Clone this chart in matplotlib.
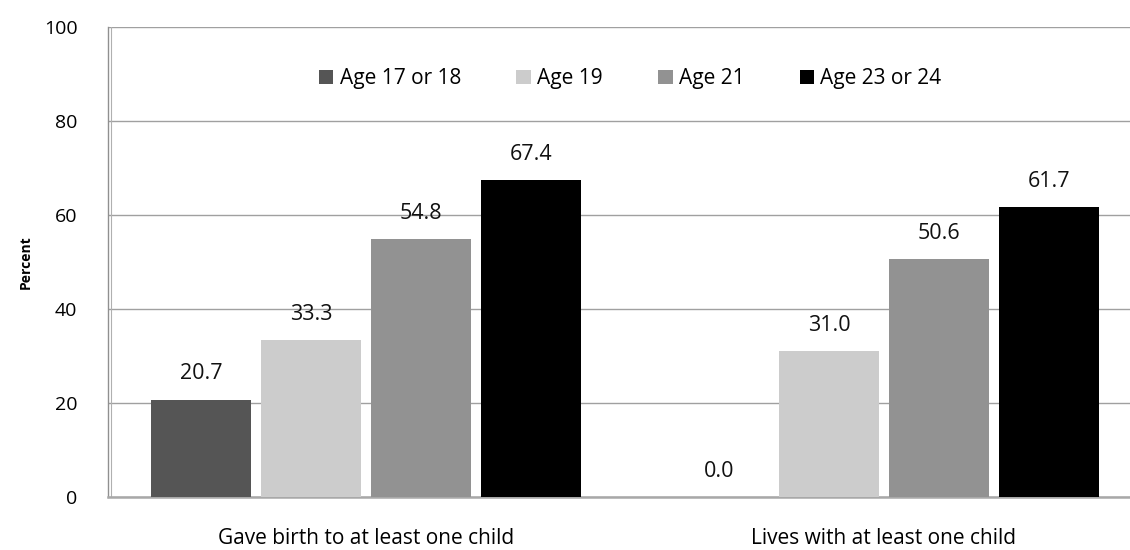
import matplotlib
matplotlib.use("Agg")
import matplotlib.pyplot as plt
import numpy as np

plt.rcParams['font.family'] = ['Open Sans', 'DejaVu Sans']

# data
categories = ['Gave birth to at least one child', 'Lives with at least one child']
series_names = ['Age 17 or 18', 'Age 19', 'Age 21', 'Age 23 or 24']
age_17_18 = [20.7, 0.0]
age_19 = [33.3, 31.0]
age_21 = [54.8, 50.6]
age_23_24 = [67.4, 61.7]
series_values = [age_17_18, age_19, age_21, age_23_24]
colors = ['#555555', '#cccccc', '#929292', '#000000']
y_ticks = [0, 20, 40, 60, 80, 100]

fig = plt.figure(figsize=(11.3, 5.5), dpi=100)
ax = fig.add_axes([108 / 1130, 53 / 550, 1022 / 1130, 470 / 550])

x = np.arange(len(categories))
width = 0.193
step = 0.2125
for i, (name, vals, col) in enumerate(zip(series_names, series_values, colors)):
    pos = x + (i - 1.5) * step
    bars = ax.bar(pos, vals, width, color=col, label=name, zorder=3)
    for b, v in zip(bars, vals):
        ax.annotate(f"{v:.1f}", (b.get_x() + b.get_width() / 2, v),
                    xytext=(0, 11), textcoords='offset points',
                    ha='center', va='bottom', fontsize=15.5, color='#111111')

ax.set_ylim(0, 100)
ax.set_xlim(-0.498, 1.475)
ax.set_yticks(y_ticks)
ax.set_yticklabels([str(t) for t in y_ticks], fontsize=14)
ax.set_xticks(x)
ax.set_xticklabels(categories, fontsize=15)
ax.tick_params(axis='both', length=0)
ax.tick_params(axis='y', pad=22)
ax.tick_params(axis='x', pad=22)

ax.grid(axis='y', color='#a0a0a0', linewidth=1.0, zorder=0)
for s in ['top', 'right']:
    ax.spines[s].set_visible(False)
ax.spines['left'].set_color('#909090')
ax.spines['left'].set_linewidth(1.0)
ax.spines['bottom'].set_color('#a8a8a8')
ax.spines['bottom'].set_linewidth(1.8)
# second line of the double left axis
ax.axvline(-0.498 + 3 / 518, color='#b0b0b0', linewidth=0.8, zorder=2)

ax.set_ylabel('Percent', fontsize=10, fontweight='bold', labelpad=8)

ax.legend(loc='center', bbox_to_anchor=(0.511, 0.89), ncol=4, frameon=False,
          fontsize=15, handlelength=0.7, handleheight=0.7, handletextpad=0.3,
          columnspacing=2.65)

fig.savefig('out.png', dpi=100)
